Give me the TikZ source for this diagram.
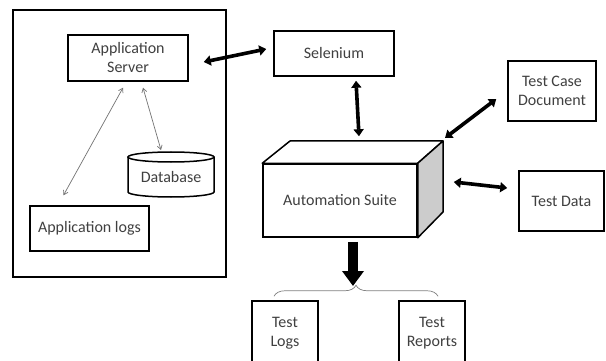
\documentclass[tikz,border=0pt]{standalone}
\usepackage{fontspec}
\setmainfont{Carlito}
\usetikzlibrary{arrows.meta,calc,decorations.pathreplacing}
\begin{document}
\begin{tikzpicture}[x=1pt,y=-1pt,
  box/.style={draw=black,line width=1.5pt,rectangle,align=center,
    inner sep=0pt,text=black!75,font=\fontsize{16}{19}\selectfont},
  bigarrow/.style={line width=3.6pt,{Triangle[length=7pt,width=10pt]}-{Triangle[length=7pt,width=10pt]}},
  thinarrow/.style={draw=black!55,line width=0.7pt,{Straight Barb[length=4pt,width=5pt]}-{Straight Barb[length=4pt,width=5pt]}},
  lbl/.style={text=black!75,font=\fontsize{16}{19}\selectfont}]
\clip (0,0) rectangle (606,361);
\fill[white] (0,0) rectangle (606,361);

% application side
\draw[line width=1.5pt] (13,10) rectangle (226,277);
\node[box,minimum width=120pt,minimum height=46pt] (srv) at (128,58) {Application\\Server};
\node[box,minimum width=119pt,minimum height=45pt] (logs) at (89.5,228.5) {Application logs};

% database cylinder
\coordinate (dbtop) at (171,157);
\draw[line width=1.5pt,fill=white] (128,157) -- (128,192) arc[start angle=180,end angle=0,x radius=43,y radius=5] -- (214,157);
\draw[line width=1.5pt] (dbtop) ellipse[x radius=43,y radius=5];
\node[lbl] (db) at (171,177.5) {Database};

% automation suite box
\node[box,minimum width=154pt,minimum height=73pt] (suite) at (340,200.5) {Automation Suite};
\coordinate (bk) at (443,141);
\draw[line width=1.5pt,fill=white,line join=round] (suite.north west) -- (290,141) -- (bk) -- (suite.north east) -- cycle;
\draw[line width=1.5pt,fill=black!20,line join=round] (suite.north east) -- (bk) -- (443,212) -- (suite.south east) -- cycle;

% other nodes
\node[box,minimum width=120pt,minimum height=45pt] (sel) at (334,53.5) {Selenium};
\node[box,minimum width=88pt,minimum height=60pt] (tcd) at (552,91) {Test Case\\Document};
\node[box,minimum width=85pt,minimum height=60pt] (td) at (561.5,201) {Test Data};
\node[box,minimum width=66pt,minimum height=64pt] (tlog) at (285,333) {Test\\Logs};
\node[box,minimum width=66pt,minimum height=64pt] (trep) at (432,333) {Test\\Reports};

% thin links inside the application box
\draw[thinarrow] ($(srv.south)+(-5,6)$) -- ($(logs.north)+(-26,-10)$);
\draw[thinarrow] ($(srv.south)+(15,6)$) -- ($(dbtop)+(-10,-7)$);

% heavy links
\draw[bigarrow] ($(srv.east)+(15,4)$) -- ($(sel.west)+(-7,-4.5)$);
\draw[bigarrow] ($(sel.south)+(22,4)$) -- ($(suite.north)+(19,-27)$);
\draw[bigarrow] ($(bk)+(2,-3)$) -- ($(tcd.west)+(-11,8)$);
\draw[bigarrow] ($(suite.east)+(36,-18.5)$) -- ($(td.west)+(-11,-13)$);

% output arrow and brace
\coordinate (bt) at (353,286);
\draw[line width=10pt,-{Triangle[length=15pt,width=21pt]}] ($(suite.south)+(13,4)$) -- (bt);
\draw[draw=black!50,line width=0.7pt,decorate,decoration={brace,amplitude=11pt}]
  ($(tlog.north)+(-11,-4)$) -- ($(trep.north)+(6,-4)$);
\end{tikzpicture}
\end{document}
